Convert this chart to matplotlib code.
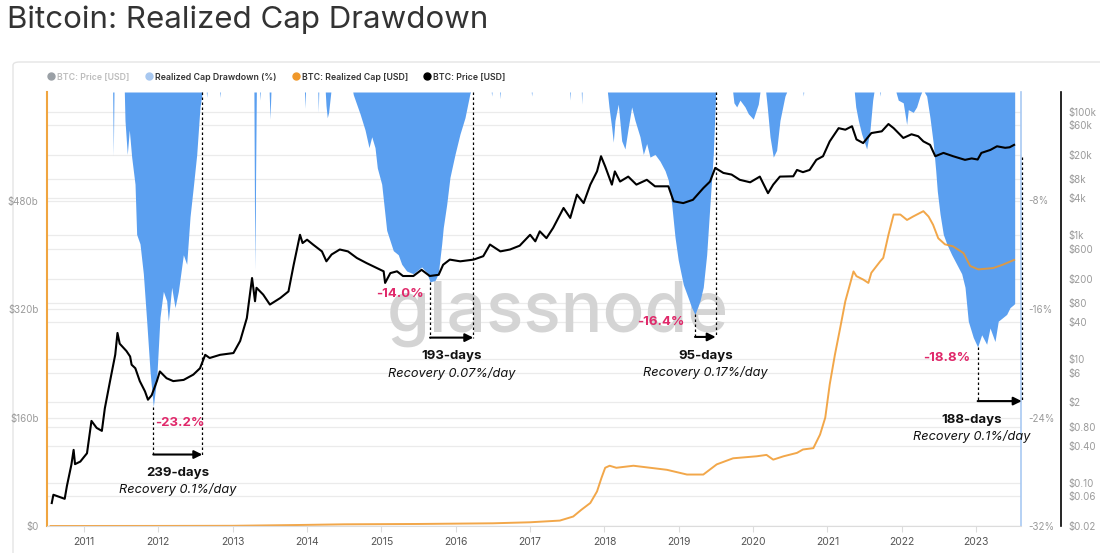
import matplotlib
matplotlib.use("Agg")
import matplotlib.pyplot as plt
from matplotlib.lines import Line2D
from matplotlib.patches import FancyBboxPatch

plt.rcParams["font.family"] = ["Inter", "DejaVu Sans"]

# ---- data ----
years = list(range(2011, 2024))

price_t = [2010.566, 2010.588, 2010.74, 2010.77, 2010.83, 2010.86, 2010.879, 2010.95, 2011.04,
           2011.10, 2011.17, 2011.24, 2011.28, 2011.35, 2011.42, 2011.45, 2011.48, 2011.57,
           2011.62, 2011.64, 2011.69, 2011.75, 2011.82, 2011.86, 2011.91, 2011.98, 2012.02,
           2012.11, 2012.20, 2012.34, 2012.47, 2012.56, 2012.63, 2012.69, 2012.83, 2013.01,
           2013.10, 2013.19, 2013.26, 2013.30, 2013.32, 2013.41, 2013.50, 2013.64, 2013.75,
           2013.82, 2013.905, 2013.94, 2014.00, 2014.08, 2014.20, 2014.26, 2014.33, 2014.44,
           2014.55, 2014.67, 2014.80, 2014.94, 2015.03, 2015.05, 2015.12, 2015.21, 2015.29,
           2015.43, 2015.54, 2015.65, 2015.77, 2015.83, 2015.92, 2016.06, 2016.24, 2016.37,
           2016.46, 2016.60, 2016.73, 2016.86, 2017.00, 2017.07, 2017.13, 2017.22, 2017.31,
           2017.45, 2017.54, 2017.63, 2017.72, 2017.81, 2017.90, 2017.954, 2018.01, 2018.10,
           2018.14, 2018.21, 2018.32, 2018.43, 2018.57, 2018.68, 2018.86, 2018.93, 2019.06,
           2019.19, 2019.33, 2019.42, 2019.49, 2019.60, 2019.71, 2019.82, 2019.96, 2020.09,
           2020.20, 2020.27, 2020.36, 2020.54, 2020.59, 2020.67, 2020.76, 2020.85, 2020.94,
           2021.03, 2021.15, 2021.24, 2021.33, 2021.39, 2021.48, 2021.59, 2021.73, 2021.82,
           2021.89, 2022.02, 2022.13, 2022.22, 2022.29, 2022.38, 2022.45, 2022.56, 2022.69,
           2022.85, 2022.94, 2023.02, 2023.07, 2023.19, 2023.28, 2023.39, 2023.45, 2023.51]
price_usd = [0.047, 0.064, 0.055, 0.089, 0.196, 0.34, 0.20, 0.22, 0.30,
             1.0, 0.77, 0.69, 1.6, 4.4, 11.8, 26.4, 17.7, 13.5,
             11.0, 8.1, 7.1, 4.4, 3.0, 2.2, 2.6, 4.4, 6.3,
             4.9, 4.4, 4.6, 5.6, 7.1, 11.7, 10.4, 11.7, 12.5,
             19.6, 46, 204, 86, 142, 110, 76, 97, 124,
             334, 1020, 750, 850, 710, 550, 380, 490, 590,
             550, 430, 356, 296, 262, 170, 245, 262, 220,
             220, 277, 220, 230, 334, 405, 380, 405, 460,
             710, 550, 590, 680, 1020, 800, 1160, 900, 1320,
             2770, 1910, 4550, 3320, 6600, 10800, 19000, 13000, 6600,
             10800, 7400, 8900, 6600, 7900, 6200, 6200, 3550, 3320,
             3750, 5800, 7400, 12300, 10200, 9600, 7900, 7200, 8900,
             4800, 6600, 8900, 9000, 11400, 10500, 11400, 16600, 19000,
             33000, 54000, 51000, 58000, 35500, 31000, 45000, 48000, 63000,
             54000, 37500, 43000, 40000, 33000, 29000, 19000, 21500, 19000,
             16600, 17500, 16800, 21500, 24000, 27500, 26000, 26500, 29000]

rcap_t = [2010.55, 2012.00, 2013.00, 2013.90, 2014.50, 2015.50, 2016.50, 2017.00, 2017.40,
          2017.58, 2017.69, 2017.81, 2017.90, 2017.96, 2018.01, 2018.07, 2018.16, 2018.39,
          2018.84, 2019.11, 2019.33, 2019.51, 2019.73, 2020.05, 2020.18, 2020.27, 2020.41,
          2020.59, 2020.67, 2020.81, 2020.90, 2020.97, 2021.03, 2021.10, 2021.17, 2021.24,
          2021.30, 2021.35, 2021.39, 2021.48, 2021.55, 2021.59, 2021.71, 2021.75, 2021.82,
          2021.89, 2021.98, 2022.07, 2022.15, 2022.29, 2022.36, 2022.42, 2022.49, 2022.58,
          2022.69, 2022.83, 2022.92, 2023.03, 2023.23, 2023.36, 2023.51]
rcap_bn = [0.0, 0.1, 0.3, 1.5, 2.5, 3.0, 4.0, 5.5, 8,
           14, 24, 34, 51, 71, 86, 89, 86, 89,
           83, 76, 76, 91, 100, 103, 105, 98, 103,
           108, 113, 115, 135, 160, 209, 253, 292, 332,
           356, 376, 369, 364, 359, 374, 391, 396, 430,
           460, 460, 452, 457, 465, 457, 445, 425, 416,
           413, 403, 384, 379, 381, 386, 393]

dd_t = [2010.50, 2011.385, 2011.394, 2011.403,
        2011.542, 2011.551, 2011.582, 2011.609, 2011.641, 2011.686, 2011.708, 2011.753,
        2011.798, 2011.843, 2011.888, 2011.932, 2011.978, 2012.022, 2012.067, 2012.112,
        2012.134, 2012.179, 2012.224, 2012.269, 2012.336, 2012.381, 2012.426, 2012.470,
        2012.516, 2012.560, 2012.591,
        2012.645, 2012.650, 2012.655, 2012.824, 2012.829, 2012.834,
        2013.285, 2013.293, 2013.300, 2013.308, 2013.318,
        2013.362, 2013.367, 2013.372, 2013.490, 2013.502, 2013.514,
        2013.965, 2013.972, 2013.979, 2014.145, 2014.151, 2014.157,
        2014.245, 2014.255, 2014.272, 2014.290, 2014.310, 2014.320,
        2014.615, 2014.622, 2014.712, 2014.780, 2014.833, 2014.870, 2014.914, 2014.945,
        2015.004, 2015.071, 2015.160, 2015.227, 2015.273, 2015.340, 2015.429, 2015.541,
        2015.609, 2015.654, 2015.721, 2015.765, 2015.811, 2015.832, 2015.878, 2015.922,
        2015.990, 2016.057, 2016.124, 2016.191, 2016.200,
        2016.478, 2016.483, 2016.488, 2016.590, 2016.595, 2016.600,
        2017.016, 2017.021, 2017.026, 2017.532, 2017.537, 2017.542,
        2017.689, 2017.694, 2017.699,
        2018.040, 2018.061, 2018.097, 2018.119, 2018.142, 2018.186, 2018.232, 2018.276,
        2018.321, 2018.366, 2018.411, 2018.478, 2018.523, 2018.568, 2018.613, 2018.680,
        2018.747, 2018.815, 2018.859, 2018.905, 2018.949, 2018.993, 2019.061, 2019.128,
        2019.173, 2019.218, 2019.285, 2019.329, 2019.375, 2019.419, 2019.464, 2019.496,
        2019.500,
        2019.725, 2019.742, 2019.779, 2019.823, 2019.890, 2019.935, 2020.002, 2020.069,
        2020.092,
        2020.169, 2020.190, 2020.227, 2020.271, 2020.316, 2020.361, 2020.428, 2020.451,
        2020.670, 2020.675, 2020.680,
        2021.361, 2021.380, 2021.415, 2021.460, 2021.527, 2021.572, 2021.608, 2021.625,
        2021.701, 2021.706, 2021.711,
        2021.921, 2021.952, 2022.019, 2022.065, 2022.087, 2022.154, 2022.199, 2022.244,
        2022.267,
        2022.302, 2022.334, 2022.379, 2022.423, 2022.456, 2022.477, 2022.514, 2022.558,
        2022.604, 2022.671, 2022.738, 2022.805, 2022.850, 2022.894, 2022.961, 2023.020,
        2023.074, 2023.141, 2023.186, 2023.253, 2023.297, 2023.365, 2023.410, 2023.455,
        2023.499, 2023.518]
dd_pct = [0, 0, -4.7, 0,
          0, -2.1, -4.6, -2.8, -4.8, -6.8, -10.5, -11.2,
          -13.4, -16.9, -20.6, -23.2, -21.1, -16.6, -14.7, -15.4,
          -16.9, -14.4, -15.9, -14.7, -12.0, -12.7, -9.2, -7.0,
          -4.6, -1.1, 0,
          0, -0.4, 0, 0, -0.4, 0,
          0, -9.0, -13.1, -6.0, 0,
          0, -0.6, 0, 0, -2.0, 0,
          0, -1.2, 0, 0, -1.5, 0,
          0, -1.0, -1.9, -1.5, -0.5, 0,
          0, -0.2, -1.6, -2.8, -4.1, -3.3, -4.1, -5.6,
          -6.8, -10.2, -11.7, -12.0, -12.7, -13.2, -13.4, -12.9,
          -13.3, -14.0, -13.9, -13.4, -11.2, -10.0, -8.3, -6.3,
          -4.6, -3.1, -1.9, -0.1, 0,
          0, -0.3, 0, 0, -0.5, 0,
          0, -0.3, 0, 0, -0.6, 0,
          0, -0.9, 0,
          0, -1.1, -2.6, -3.7, -2.1, -0.9, -3.6, -4.2,
          -2.6, -1.1, -2.1, -3.3, -4.6, -3.8, -4.8, -4.6,
          -5.1, -5.8, -6.5, -8.3, -10.7, -12.4, -14.2, -15.2,
          -15.9, -16.4, -15.4, -14.4, -12.0, -8.3, -4.6, -0.1,
          0,
          0, -0.8, -1.1, -0.6, -1.1, -1.6, -2.0, -0.9,
          0,
          0, -1.1, -3.3, -4.8, -4.3, -2.1, -0.3, 0,
          0, -0.3, 0,
          0, -1.1, -2.1, -3.1, -4.2, -2.8, -0.6, 0,
          0, -0.3, 0,
          0, -0.6, -0.8, -2.4, -1.3, -1.5, -1.1, -0.3,
          0,
          0, -0.3, -1.9, -3.8, -5.8, -7.3, -9.0, -10.5,
          -11.2, -12.0, -12.7, -13.4, -14.4, -16.9, -18.1, -18.8,
          -17.9, -18.6, -17.4, -18.4, -16.9, -16.6, -16.4, -15.9,
          -15.7, -15.6]

# drawdown lows and recoveries
low_t = [2011.932, 2015.654, 2019.218, 2023.020]
low_pct = [-23.2, -14.0, -16.4, -18.8]
recovered_t = [2012.591, 2016.236, 2019.496, 2023.612]
recovery_days = [239, 193, 95, 188]
recovery_rate = ["0.1%", "0.07%", "0.17%", "0.1%"]

price_ticks = [0.02, 0.06, 0.1, 0.4, 0.8, 2, 6, 10, 40, 80, 200, 600, 1000,
               4000, 8000, 20000, 60000, 100000]
price_labels = ["$0.02", "$0.06", "$0.10", "$0.40", "$0.80", "$2", "$6", "$10", "$40",
                "$80", "$200", "$600", "$1k", "$4k", "$8k", "$20k", "$60k", "$100k"]
cap_ticks = [0, 160, 320, 480]
dd_ticks = [-32, -24, -16, -8]

# ---- layout for the annotations ----
arrow_y = [-26.73, -18.11, -18.06, -22.79]      # in drawdown units
end_top = [0, 0, 0, -4.82]
pct_off = [(1.5, -11.5, "left"), (-4.5, -8.5, "right"), (-7.5, -5.5, "right"), (-5, -8, "right")]
text_shift = [0, 0, 0, -20]                     # points

BLUE = "#5a9ff0"
ORANGE = "#f0982a"
PINK = "#e0286a"
GREY = "#9a9a9a"

fig = plt.figure(figsize=(11, 5.53), dpi=100)
fig.add_artist(FancyBboxPatch((13 / 1100, -0.02), 1.0, 1 - 62 / 553 + 0.02,
                              boxstyle="round,pad=0,rounding_size=0.006",
                              transform=fig.transFigure, fc="white", ec="#e4e4e4",
                              lw=1, zorder=0))
fig.text(7 / 1100, 1 - 20 / 553, "Bitcoin: Realized Cap Drawdown", fontsize=22.5,
         color="#333333", va="center", ha="left")

pos = [47 / 1100, 27 / 553, 974 / 1100, 434 / 553]
ax = fig.add_axes(pos)
ax_grid = ax.twinx()
ax_dd = ax.twinx()
ax_p = ax.twinx()
ax_grid.set_zorder(0)
ax_dd.set_zorder(1)
ax.set_zorder(2)
ax_p.set_zorder(3)
ax.patch.set_visible(False)
ax_grid.patch.set_visible(True)
ax_grid.patch.set_facecolor("white")

xmin, xmax = 2010.502, 2023.603
ax.set_xlim(xmin, xmax)

# grid (price levels + cap levels)
ax_grid.set_yscale("log")
ax_grid.set_ylim(0.02, 2.075e5)
ax_grid.set_yticks(price_ticks)
ax_grid.yaxis.set_minor_locator(plt.NullLocator())
ax_grid.grid(axis="y", color="#ebebeb", lw=0.9)
ax_grid.hlines(dd_ticks, 0, 1, transform=ax_dd.get_yaxis_transform(), color="#ebebeb", lw=0.9)
ax_grid.tick_params(axis="y", right=False, labelright=False)
for s in ax_grid.spines.values():
    s.set_visible(False)

# drawdown fill
ax_dd.fill_between(dd_t, dd_pct, 0, color=BLUE, lw=0, zorder=2)
ax_dd.set_ylim(-32, 0)
ax_dd.set_yticks(dd_ticks)
ax_dd.set_yticklabels([f"{v}%" for v in dd_ticks])
ax_dd.tick_params(axis="y", length=0, pad=5, labelsize=7, labelcolor=GREY)
ax_dd.text(0.5246, 0.488, "glassnode", transform=ax_dd.transAxes, fontsize=50,
           fontweight="medium", color="#d4d4d4", ha="center", va="center", zorder=1)
for s in ["left", "top", "bottom"]:
    ax_dd.spines[s].set_visible(False)
ax_dd.spines["right"].set_color("#a9c9f2")
ax_dd.spines["right"].set_linewidth(1.2)

# realized cap
ax.plot(rcap_t, rcap_bn, color=ORANGE, lw=1.4, alpha=0.85)
ax.set_ylim(0, 641)
ax.set_yticks(cap_ticks)
ax.set_yticklabels(["$0"] + [f"${v}b" for v in cap_ticks[1:]])
ax.tick_params(axis="y", length=0, pad=6, labelsize=7, labelcolor=GREY)
ax.set_xticks(years)
ax.tick_params(axis="x", length=4, color="#dcdcdc", labelsize=7.5, labelcolor="#555555", pad=4)
ax.spines["left"].set_color("#f0a540")
ax.spines["left"].set_linewidth(1.5)
ax.spines["bottom"].set_color("#dcdcdc")
ax.spines["top"].set_visible(False)
ax.spines["right"].set_visible(False)

# price
ax_p.plot(price_t, price_usd, color="black", lw=1.5)
ax_p.set_yscale("log")
ax_p.set_ylim(0.02, 2.075e5)
ax_p.set_yticks(price_ticks)
ax_p.set_yticklabels(price_labels)
ax_p.yaxis.set_minor_locator(plt.NullLocator())
ax_p.tick_params(axis="y", length=0, pad=5, labelsize=7, labelcolor=GREY)
ax_p.spines["right"].set_position(("outward", 28.8))
ax_p.spines["right"].set_color("black")
ax_p.spines["right"].set_linewidth(1.2)
for s in ["left", "top", "bottom"]:
    ax_p.spines[s].set_visible(False)
ax_p.set_xlim(xmin, xmax)

# recovery annotations
dash = (0, (2, 2))
for i in range(len(low_t)):
    t0, t1, y = low_t[i], recovered_t[i], arrow_y[i]
    ax_dd.plot([t0, t0], [low_pct[i], y], color="black", lw=0.9, ls=dash, zorder=5,
               clip_on=False)
    ax_dd.plot([t1, t1], [end_top[i], y], color="black", lw=0.9, ls=dash, zorder=5,
               clip_on=False)
    ax_dd.annotate("", xy=(t1, y), xytext=(t0, y), annotation_clip=False, zorder=6,
                   arrowprops=dict(arrowstyle="-|>", color="black", lw=1.5,
                                   mutation_scale=12, shrinkA=0, shrinkB=0))
    dx, dy, ha = pct_off[i]
    ax_dd.annotate(f"{low_pct[i]:.1f}%", xy=(t0, low_pct[i]), xytext=(dx, dy),
                   textcoords="offset points", ha=ha, va="center", fontsize=9.5,
                   fontweight="bold", color=PINK, annotation_clip=False, zorder=6)
    mid = (t0 + t1) / 2
    ax_dd.annotate(f"{recovery_days[i]}-days", xy=(mid, y), xytext=(text_shift[i], -13.5),
                   textcoords="offset points", ha="center", va="center", fontsize=9.5,
                   fontweight="bold", color="#111111", annotation_clip=False, zorder=6)
    ax_dd.annotate(f"Recovery {recovery_rate[i]}/day", xy=(mid, y),
                   xytext=(text_shift[i], -25.5), textcoords="offset points",
                   ha="center", va="center", fontsize=9.2, fontstyle="italic",
                   color="#111111", annotation_clip=False, zorder=6)

# legend
handles = [Line2D([], [], ls="", marker="o", ms=5, color=c)
           for c in ["#9aa0a6", "#a8c8f0", "#f0982a", "black"]]
labels = ["BTC: Price [USD]", "Realized Cap Drawdown (%)", "BTC: Realized Cap [USD]",
          "BTC: Price [USD]"]
leg = fig.legend(handles, labels, loc="center left", bbox_to_anchor=(38 / 1100, 1 - 77 / 553),
                 ncol=4, frameon=False, handletextpad=0.1, columnspacing=1.6,
                 handlelength=1.2, prop={"weight": "semibold", "size": 6.3})
for txt, c in zip(leg.get_texts(), ["#bdbdbd", "#333333", "#333333", "#333333"]):
    txt.set_color(c)

fig.savefig("out.png", dpi=100)
